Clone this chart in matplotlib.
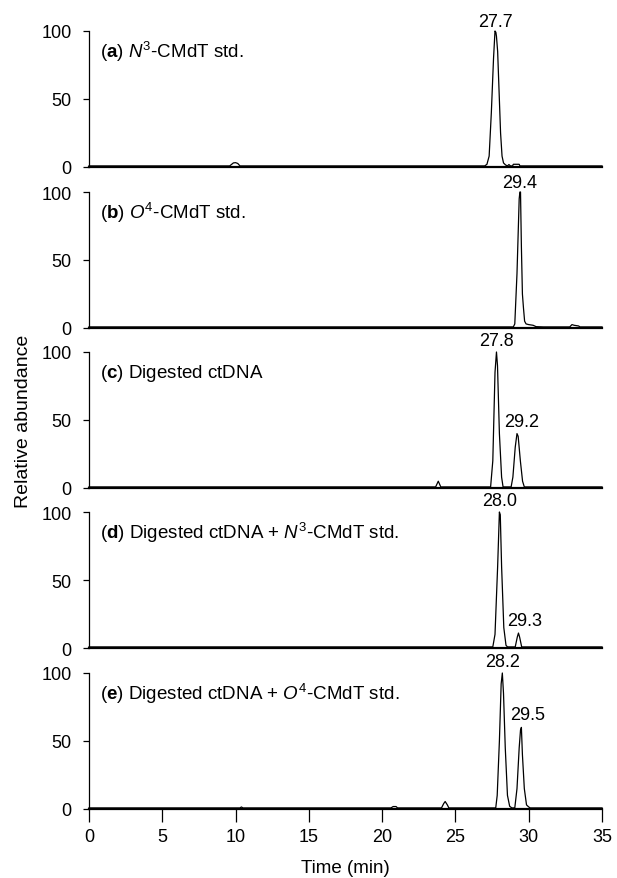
#############################################################################################
# HPLC traces of CMdT standards and digested ctDNA (five stacked panels)
#############################################################################################

import matplotlib
matplotlib.use('Agg')
import matplotlib.pyplot as plt

plt.rcParams['font.family'] = ['Liberation Sans', 'DejaVu Sans']
plt.rcParams['mathtext.fontset'] = 'custom'
plt.rcParams['mathtext.rm'] = 'Liberation Sans'
plt.rcParams['mathtext.it'] = 'Liberation Sans:italic'
plt.rcParams['mathtext.bf'] = 'Liberation Sans:bold'

# Data
#####################
# trace vertices: time (min) and relative abundance
time_a = [0, 9.6, 9.85, 10.0, 10.15, 10.3, 27.0, 27.15, 27.3, 27.45, 27.6, 27.7, 27.76, 27.8,
          27.88, 27.98, 28.08, 28.18, 28.28, 28.42, 28.55, 28.65, 28.75, 28.9, 28.95, 29.35, 29.4, 35]
abund_a = [0.8, 0.8, 3.0, 3.2, 2.6, 0.8, 0.8, 2, 8, 40, 80, 100, 99, 96,
           85, 55, 25, 8, 3, 1.5, 0.8, 1.8, 0.8, 0.8, 2, 2, 0.8, 0.8]

time_b = [0, 28.95, 29.05, 29.2, 29.35, 29.4, 29.44, 29.5, 29.57, 29.64, 29.72, 29.82, 30.0,
          30.3, 30.5, 31.0, 32.8, 32.95, 33.1, 33.4, 33.5, 35]
abund_b = [0.8, 0.8, 3, 40, 95, 100, 100, 60, 25, 15, 5, 3, 2.5,
           2, 1, 0.8, 0.8, 2.5, 2, 1.5, 0.8, 0.8]

time_c = [0, 23.65, 23.83, 24.0, 27.4, 27.55, 27.7, 27.8, 27.87, 28.0, 28.15, 28.25, 28.8,
          28.92, 29.08, 29.2, 29.28, 29.43, 29.58, 29.7, 35]
abund_c = [0.8, 0.8, 5, 0.8, 0.8, 20, 85, 100, 90, 40, 8, 0.8, 0.8,
           8, 30, 40, 38, 20, 5, 0.8, 0.8]

time_d = [0, 27.55, 27.7, 27.88, 28.0, 28.06, 28.15, 28.3, 28.45, 28.55, 29.08, 29.22, 29.3,
          29.38, 29.52, 35]
abund_d = [0.8, 0.8, 10, 60, 100, 98, 60, 15, 2, 0.8, 0.8, 8, 11,
           8, 0.8, 0.8]

time_e = [0, 10.3, 10.4, 10.5, 20.6, 20.75, 20.95, 21.05, 24.05, 24.2, 24.3, 24.45, 24.55,
          27.75, 27.85, 28.0, 28.12, 28.2, 28.28, 28.4, 28.55, 28.7, 28.85, 29.05, 29.2, 29.35,
          29.44, 29.5, 29.57, 29.7, 29.85, 30.0, 30.1, 35]
abund_e = [0.8, 0.8, 1.5, 0.8, 0.8, 1.8, 1.8, 0.8, 0.8, 4, 5.5, 3, 0.8,
           0.8, 10, 50, 92, 100, 85, 45, 10, 2, 0.8, 0.8, 15, 45,
           58, 60, 40, 15, 3, 1.5, 0.8, 0.8]

panel_titles = [r'($\mathbf{a}$) $\mathit{N}^{3}$-CMdT std.',
                r'($\mathbf{b}$) $\mathit{O}^{4}$-CMdT std.',
                r'($\mathbf{c}$) Digested ctDNA',
                r'($\mathbf{d}$) Digested ctDNA + $\mathit{N}^{3}$-CMdT std.',
                r'($\mathbf{e}$) Digested ctDNA + $\mathit{O}^{4}$-CMdT std.']

# peak labels per panel: text, x, y (bottom of text)
peak_labels = [[('27.7', 27.7, 101)],
               [('29.4', 29.4, 101)],
               [('27.8', 27.8, 102), ('29.2', 29.55, 43)],
               [('28.0', 28.0, 102), ('29.3', 29.7, 14)],
               [('28.2', 28.2, 102), ('29.5', 29.9, 63)]]

times = [time_a, time_b, time_c, time_d, time_e]
abundances = [abund_a, abund_b, abund_c, abund_d, abund_e]

# Plot
#####################
W, H = 617, 879
fig = plt.figure(figsize=(W / 100, H / 100), dpi=100)
left_px, right_px = 89, 602
tops_px = [32, 193, 353, 513, 674]
height_px = 136

axes = []
for p in range(5):
    ax = fig.add_axes([left_px / W, 1 - (tops_px[p] + height_px) / H,
                       (right_px - left_px) / W, height_px / H])
    ax.plot(times[p], abundances[p], color='black', lw=0.9, clip_on=False)
    ax.set_xlim(0, 35)
    ax.set_ylim(0, 100)
    ax.set_yticks([0, 50, 100])
    ax.spines['top'].set_visible(False)
    ax.spines['right'].set_visible(False)
    ax.spines['left'].set_linewidth(0.9)
    ax.spines['bottom'].set_linewidth(1.6)
    ax.tick_params(axis='y', direction='out', length=4.5, width=0.9, labelsize=13, pad=8)
    if p < 4:
        ax.tick_params(axis='x', bottom=False, labelbottom=False)
    else:
        ax.set_xticks([0, 5, 10, 15, 20, 25, 30, 35])
        ax.tick_params(axis='x', direction='out', length=9, width=0.9, labelsize=13, pad=5)
        ax.set_xlabel('Time (min)', fontsize=13.5, labelpad=10)
    ax.text(0.021, 0.85, panel_titles[p], transform=ax.transAxes, fontsize=13.5,
            ha='left', va='center')
    for txt, x, y in peak_labels[p]:
        ax.text(x, y, txt, fontsize=13, ha='center', va='bottom', clip_on=False)
    ax.patch.set_alpha(0)
    axes.append(ax)

axes[2].set_ylabel('Relative abundance', fontsize=14, labelpad=7)

plt.savefig('out.png', dpi=100)
